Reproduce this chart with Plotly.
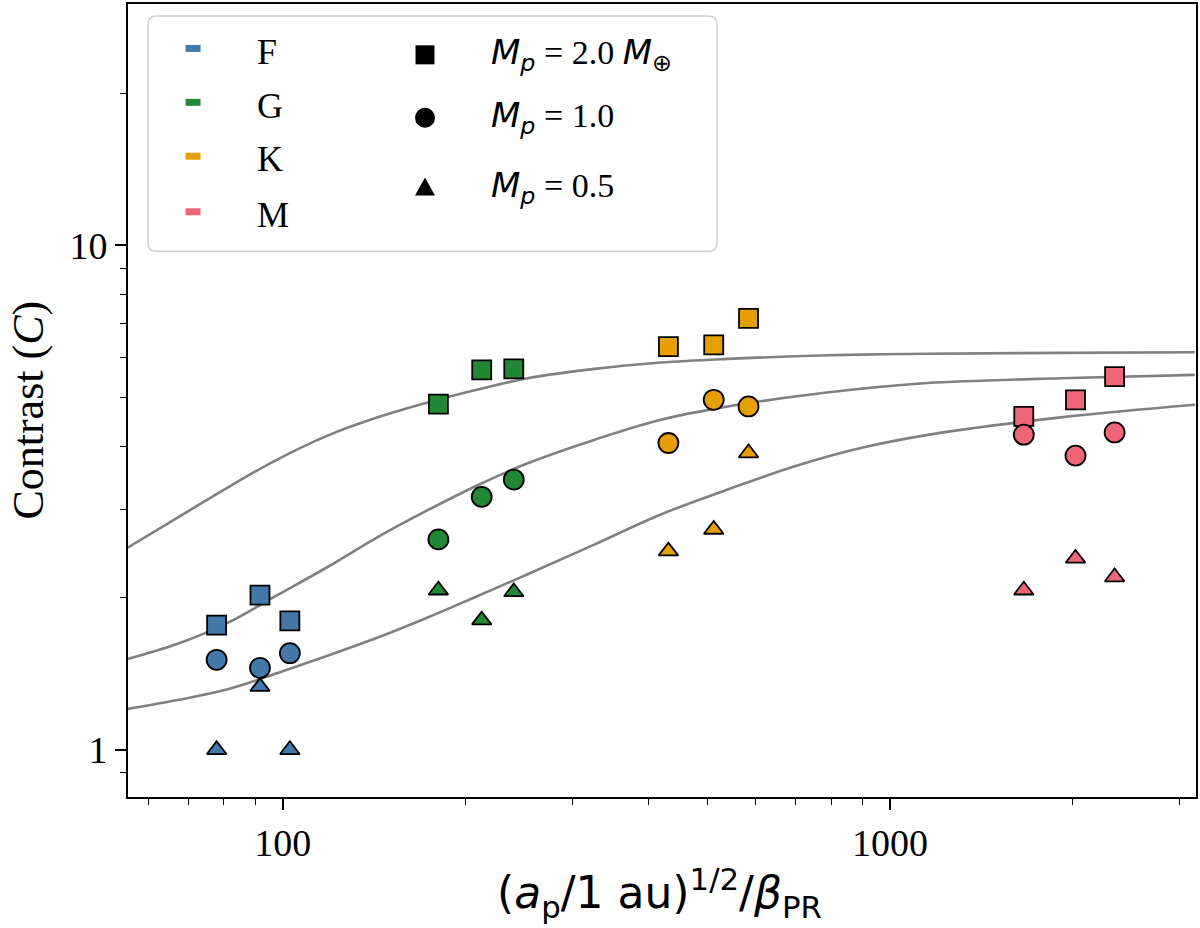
import plotly.graph_objects as go

# ---------------- data ----------------
star_types = ["F", "G", "K", "M"]
colors = ["#4477AA", "#228833", "#E69F00", "#EE6677"]

# x positions: (a_p/1 au)^{1/2}/beta_PR
x_F = [77.8, 91.7, 102.7]
x_G = [180.4, 212.6, 240.1]
x_K = [431.6, 512.5, 584.8]
x_M = [1661, 2021, 2344]

# contrast for Mp = 2.0 (squares), 1.0 (circles), 0.5 (triangles)
c2_F = [1.766, 2.025, 1.801]
c1_F = [1.508, 1.453, 1.554]
c05_F = [1.0, 1.334, 1.0]

c2_G = [4.842, 5.662, 5.688]
c1_G = [2.612, 3.171, 3.432]
c05_G = [2.071, 1.807, 2.055]

c2_K = [6.295, 6.344, 7.159]
c1_K = [4.055, 4.939, 4.791]
c05_K = [2.476, 2.733, 3.874]

c2_M = [4.578, 4.939, 5.492]
c1_M = [4.212, 3.828, 4.256]
c05_M = [2.071, 2.395, 2.200]

# model curves
curve_x = [55.5, 67.1, 81.1, 98.05, 118.5, 143.3, 173.2, 209.4, 253.1, 326.4,
           419.3, 540.5, 696.9, 895.1, 1154, 1911, 3178]
curve_upper = [2.515, 2.885, 3.310, 3.765, 4.195, 4.560, 4.878, 5.175, 5.450, 5.688,
               5.854, 5.953, 6.024, 6.071, 6.093, 6.118, 6.135]
curve_middle = [1.513, 1.622, 1.785, 2.027, 2.303, 2.640, 2.985, 3.345, 3.697, 4.118,
                4.510, 4.791, 5.013, 5.194, 5.333, 5.450, 5.535]
curve_lower = [1.205, 1.255, 1.318, 1.420, 1.536, 1.669, 1.829, 2.018, 2.228, 2.554,
               2.927, 3.280, 3.647, 3.963, 4.209, 4.558, 4.828]

x_major = [100, 1000]
x_minor = [60, 70, 80, 90, 200, 300, 400, 500, 600, 700, 800, 900, 2000, 3000]
y_major = [1, 10]
y_minor = [0.9, 2, 3, 4, 5, 6, 7, 8, 9, 20]

MS = "<span style='font-family:DejaVu Sans'><i>M</i><sub><i>p</i></sub></span>"
mass_labels = [
    MS + " = 2.0 <span style='font-family:DejaVu Sans'><i>M</i><sub>⊕</sub></span>",
    MS + " = 1.0",
    MS + " = 0.5",
]

# ---------------- figure ----------------
fig = go.Figure()

for cy in [curve_upper, curve_middle, curve_lower]:
    fig.add_trace(go.Scatter(x=curve_x, y=cy, mode="lines",
                             line=dict(color="#808080", width=2.6, shape="spline", smoothing=1.0),
                             showlegend=False, hoverinfo="skip"))

groups = [
    (x_F, c2_F, c1_F, c05_F),
    (x_G, c2_G, c1_G, c05_G),
    (x_K, c2_K, c1_K, c05_K),
    (x_M, c2_M, c1_M, c05_M),
]
symbols = [("square", 19), ("circle", 20), ("triangle-up", 17)]
for (xs, s2, s1, s05), col in zip(groups, colors):
    for ys, (sym, sz) in zip([s2, s1, s05], symbols):
        fig.add_trace(go.Scatter(x=xs, y=ys, mode="markers",
                                 marker=dict(symbol=sym, size=sz, color=col, line=dict(color="black", width=1.8)),
                                 showlegend=False))

# ---------------- custom legend ----------------
shapes = []
annotations = []
lx0, lx1, ly0, ly1 = 0.0187, 0.5515, 0.6881, 0.9849
r = 0.008
ry_r = r * 1068 / 795
frame_path = (f"M {lx0 + r},{ly0} L {lx1 - r},{ly0} Q {lx1},{ly0} {lx1},{ly0 + ry_r} "
              f"L {lx1},{ly1 - ry_r} Q {lx1},{ly1} {lx1 - r},{ly1} "
              f"L {lx0 + r},{ly1} Q {lx0},{ly1} {lx0},{ly1 - ry_r} "
              f"L {lx0},{ly0 + ry_r} Q {lx0},{ly0} {lx0 + r},{ly0} Z")
shapes.append(dict(type="path", xref="paper", yref="paper", path=frame_path,
                   line=dict(color="#d0d0d0", width=1.5), fillcolor="rgba(255,255,255,0.85)", layer="above"))

row_y_types = [0.9400, 0.8720, 0.8040, 0.7340]
for t, col, ry in zip(star_types, colors, row_y_types):
    shapes.append(dict(type="rect", xref="paper", yref="paper", xsizemode="pixel", ysizemode="pixel",
                       xanchor=0.0609, yanchor=ry + 0.004, x0=-7.5, x1=7.5, y0=-3.5, y1=3.5,
                       fillcolor=col, line=dict(width=0), layer="above"))
    annotations.append(dict(xref="paper", yref="paper", x=0.1190, y=ry, text=t, showarrow=False,
                            xanchor="left", yanchor="middle",
                            font=dict(family="Liberation Serif", size=36, color="black")))

row_y_mass = [0.9359, 0.8566, 0.7685]
mx = 0.2781
shapes.append(dict(type="rect", xref="paper", yref="paper", xsizemode="pixel", ysizemode="pixel",
                   xanchor=mx, yanchor=row_y_mass[0], x0=-9.5, x1=9.5, y0=-9.5, y1=9.5,
                   fillcolor="black", line=dict(width=0), layer="above"))
shapes.append(dict(type="circle", xref="paper", yref="paper", xsizemode="pixel", ysizemode="pixel",
                   xanchor=mx, yanchor=row_y_mass[1], x0=-10, x1=10, y0=-10, y1=10,
                   fillcolor="black", line=dict(width=0), layer="above"))
shapes.append(dict(type="path", xref="paper", yref="paper", xsizemode="pixel", ysizemode="pixel",
                   xanchor=mx, yanchor=row_y_mass[2], path="M -10,-8 L 10,-8 L 0,10 Z",
                   fillcolor="black", line=dict(width=0), layer="above"))
for lab, ry in zip(mass_labels, row_y_mass):
    annotations.append(dict(xref="paper", yref="paper", x=0.3380, y=ry, text=lab, showarrow=False,
                            xanchor="left", yanchor="middle",
                            font=dict(family="Liberation Serif", size=34, color="black")))

# axis titles
annotations.append(dict(xref="paper", yref="paper", x=0.498, y=-0.121,
                        text="(<i>a</i><sub>p</sub>/1 au)<sup>1/2</sup>/<i>β</i><sub>PR</sub>",
                        showarrow=False, xanchor="center", yanchor="middle",
                        font=dict(family="DejaVu Sans", size=44, color="black")))
annotations.append(dict(xref="paper", yref="paper", x=-0.094, y=0.488,
                        text="Contrast (<i>C</i>)", textangle=-90,
                        showarrow=False, xanchor="center", yanchor="middle",
                        font=dict(family="Liberation Serif", size=44, color="black")))

fig.update_layout(
    width=1200, height=928,
    margin=dict(l=128, r=4, t=2, b=131),
    paper_bgcolor="white", plot_bgcolor="white",
    shapes=shapes, annotations=annotations,
    showlegend=False,
)
fig.update_xaxes(type="log", range=[1.745, 3.504], showgrid=False, zeroline=False,
                 showline=True, linecolor="black", linewidth=2, mirror=True,
                 tickmode="array", tickvals=x_major, ticktext=[str(v) for v in x_major],
                 ticks="outside", ticklen=11, tickwidth=1.6, tickcolor="black",
                 tickfont=dict(family="Liberation Serif", size=38, color="black"),
                 minor=dict(tickmode="array", tickvals=x_minor, ticks="outside", ticklen=6, tickwidth=1.4, tickcolor="black", showgrid=False))
fig.update_yaxes(type="log", range=[-0.0935, 1.478], showgrid=False, zeroline=False,
                 showline=True, linecolor="black", linewidth=2, mirror=True,
                 tickmode="array", tickvals=y_major, ticktext=[str(v) for v in y_major],
                 ticks="outside", ticklen=11, tickwidth=1.6, tickcolor="black",
                 tickfont=dict(family="Liberation Serif", size=38, color="black"),
                 minor=dict(tickmode="array", tickvals=y_minor, ticks="outside", ticklen=6, tickwidth=1.4, tickcolor="black", showgrid=False))

fig.write_html("out.html")
